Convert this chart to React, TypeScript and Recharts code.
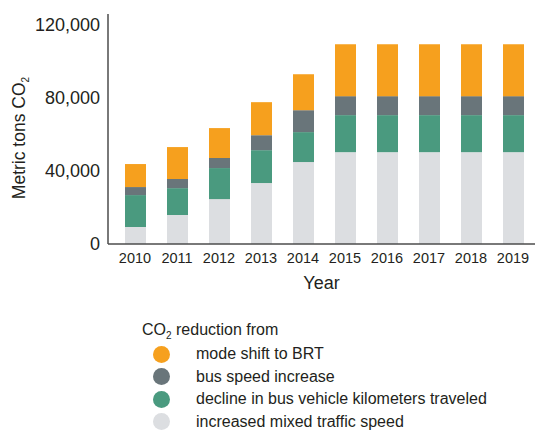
import { Bar, BarChart, Legend, XAxis, YAxis } from 'recharts';

const years = ['2010', '2011', '2012', '2013', '2014', '2015', '2016', '2017', '2018', '2019'];
const mixedTraffic = [9300, 15900, 24600, 33400, 44900, 50300, 50300, 50300, 50300, 50300];
const busKm = [17500, 14700, 17000, 18000, 16400, 20300, 20300, 20300, 20300, 20300];
const busSpeed = [4400, 5000, 5500, 8200, 12000, 10400, 10400, 10400, 10400, 10400];
const modeShift = [12600, 17500, 16400, 18100, 19700, 28400, 28400, 28400, 28400, 28400];
const yTicks = [0, 40000, 80000, 120000];

const data = years.map((year, i) => ({
  year,
  mixed: mixedTraffic[i],
  km: busKm[i],
  speed: busSpeed[i],
  shift: modeShift[i],
}));

const FONT = '"Liberation Sans", Arial, Helvetica, sans-serif';
const TEXT = '#231f20';
const AXIS = '#4d4d4d';

const series = [
  { key: 'shift', label: 'mode shift to BRT', color: '#f6a01e' },
  { key: 'speed', label: 'bus speed increase', color: '#69757a' },
  { key: 'km', label: 'decline in bus vehicle kilometers traveled', color: '#4a9a7f' },
  { key: 'mixed', label: 'increased mixed traffic speed', color: '#dcdee1' },
];

function YLabel(props: any) {
  const vb = props.viewBox || {};
  const cx = 19;
  const cy = vb.y + vb.height / 2 + 9;
  return (
    <text
      x={cx}
      y={cy}
      transform={`rotate(-90 ${cx} ${cy})`}
      textAnchor="middle"
      dominantBaseline="central"
      fill={TEXT}
      fontSize={17.5}
      fontFamily={FONT}
    >
      Metric tons CO
      <tspan fontSize={10} dy={6}>2</tspan>
    </text>
  );
}

function LegendBox() {
  return (
    <div style={{ fontFamily: FONT, color: TEXT, fontSize: 16 }}>
      <div style={{ height: 20, lineHeight: '20px' }}>
        CO<sub style={{ fontSize: 10, verticalAlign: -4, lineHeight: 0 }}>2</sub> reduction from
      </div>
      <div style={{ height: 3 }} />
      {series.map((s) => (
        <div key={s.key} style={{ height: 22.5, display: 'flex', alignItems: 'center' }}>
          <span
            style={{
              display: 'inline-block',
              width: 17,
              height: 17,
              borderRadius: '50%',
              background: s.color,
              marginLeft: 11,
              marginRight: 26,
            }}
          />
          <span>{s.label}</span>
        </div>
      ))}
    </div>
  );
}

export default function App() {
  return (
    <div style={{ position: 'absolute', left: 0, top: 0, background: '#fff' }}>
      <BarChart
        width={535}
        height={430}
        data={data}
        margin={{ top: 14, right: 0, bottom: 136, left: 0 }}
      >
        <XAxis
          dataKey="year"
          padding={{ left: 6, right: 1 }}
          axisLine={{ stroke: AXIS, strokeWidth: 1.5 }}
          tickLine={false}
          tickMargin={3}
          interval={0}
          height={50}
          tick={{ fill: TEXT, fontSize: 14.5, fontFamily: FONT }}
          label={{
            value: 'Year',
            position: 'insideBottom',
            offset: 5,
            fill: TEXT,
            fontSize: 18,
            fontFamily: FONT,
          }}
        />
        <YAxis
          width={108}
          domain={[0, 126000]}
          ticks={yTicks}
          axisLine={{ stroke: AXIS, strokeWidth: 1.5 }}
          tickLine={false}
          tick={{ fill: TEXT, fontSize: 18, fontFamily: FONT }}
          tickFormatter={(v: number) => v.toLocaleString('en-US')}
          label={<YLabel />}
        />
        <Legend
          layout="vertical"
          align="center"
          verticalAlign="middle"
          wrapperStyle={{ position: 'absolute', left: 142, top: 320, width: 390 }}
          content={() => <LegendBox />}
        />
        <Bar dataKey="mixed" stackId="a" fill="#dcdee1" barSize={21} isAnimationActive={false} />
        <Bar dataKey="km" stackId="a" fill="#4a9a7f" barSize={21} isAnimationActive={false} />
        <Bar dataKey="speed" stackId="a" fill="#69757a" barSize={21} isAnimationActive={false} />
        <Bar dataKey="shift" stackId="a" fill="#f6a01e" barSize={21} isAnimationActive={false} />
      </BarChart>
    </div>
  );
}
